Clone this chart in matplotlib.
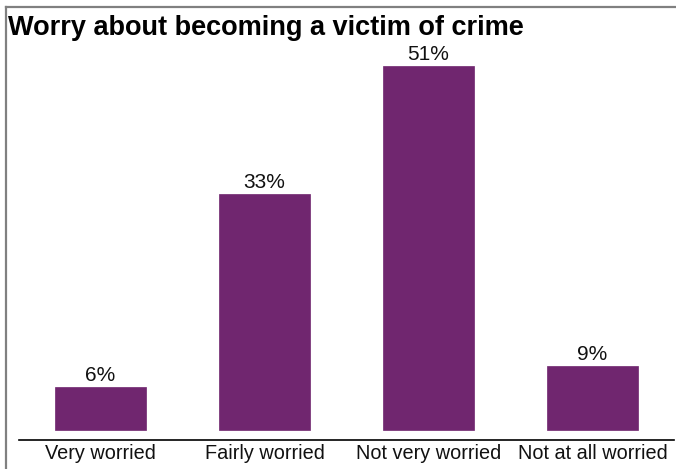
import matplotlib.pyplot as plt
from matplotlib.lines import Line2D

# Survey responses
categories = ['Very worried', 'Fairly worried', 'Not very worried', 'Not at all worried']
shares = [6, 33, 51, 9]

plt.rcParams['font.family'] = ['Liberation Sans', 'DejaVu Sans']

W, H = 676, 469
fig = plt.figure(figsize=(W / 100, H / 100), dpi=100)
fig.patch.set_facecolor('white')

ax = fig.add_axes([18.5 / W, 29 / H, 656 / W, 400 / H])
x = range(len(categories))
bars = ax.bar(x, shares, width=0.555, color='#70266F', edgecolor='#70266F', linewidth=0.5)

for bar, v in zip(bars, shares):
    ax.text(bar.get_x() + bar.get_width() / 2, v + 0.3, f'{v}%',
            ha='center', va='bottom', fontsize=15, color='#111111')

ax.set_xlim(-0.5, 3.5)
ax.set_ylim(-1.4, 54.6)
ax.set_xticks(list(x))
ax.set_xticklabels(categories, fontsize=14.3, color='#111111')
ax.tick_params(axis='x', length=0, pad=3)
ax.set_yticks([])
for side in ['left', 'right', 'top']:
    ax.spines[side].set_visible(False)
ax.spines['bottom'].set_color('black')
ax.spines['bottom'].set_linewidth(1.2)

# Title and frame
fig.text(8 / W, 1 - 35 / H, 'Worry about becoming a victim of crime',
         fontsize=19.5, fontweight='bold', va='baseline', ha='left')
fig.add_artist(Line2D([6 / W, 1], [1 - 7 / H, 1 - 7 / H], color='#808080', linewidth=1.6))
fig.add_artist(Line2D([6 / W, 6 / W], [0, 1 - 7 / H], color='#808080', linewidth=1.6))

fig.savefig('out.png', dpi=100)
